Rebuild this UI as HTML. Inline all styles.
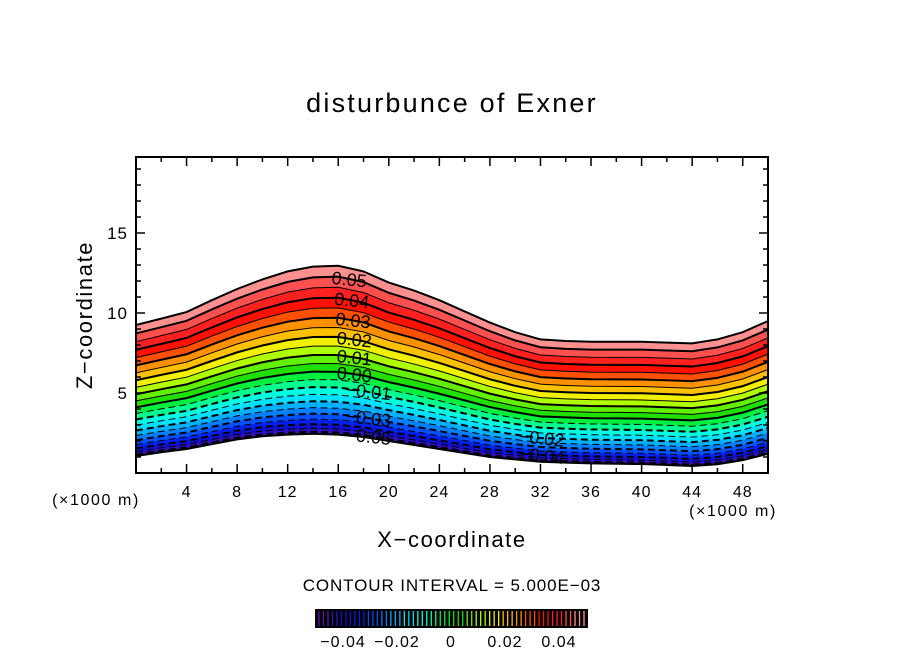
<!DOCTYPE html>
<html><head><meta charset="utf-8"><style>
body{margin:0;background:#fff}
svg text{font-family:"Liberation Sans","DejaVu Sans",sans-serif;fill:#000}
</style></head><body>
<svg id="c" width="904" height="654" xmlns="http://www.w3.org/2000/svg">
<text x="452" y="112" font-size="27" letter-spacing="2.2" text-anchor="middle">disturbunce of Exner</text>
<g id="plot"></g>
<g id="axes"></g>
<text x="96" y="505" font-size="16" letter-spacing="1.6" text-anchor="middle">(×1000 m)</text>
<text x="733" y="516" font-size="16" letter-spacing="1.6" text-anchor="middle">(×1000 m)</text>
<text x="452" y="547" font-size="22" letter-spacing="1.6" text-anchor="middle">X−coordinate</text>
<text transform="translate(92,315) rotate(-90)" font-size="22" letter-spacing="1.6" text-anchor="middle">Z−coordinate</text>
<text x="452" y="591" font-size="17" letter-spacing="0.9" text-anchor="middle">CONTOUR INTERVAL = 5.000E−03</text>
<g id="cbar"></g>
</svg>
<script>
const xs=[0,2,4,6,8,10,12,14,16,18,20,22,24,26,28,30,32,34,36,38,40,42,44,46,48,50];
const topZ=[9.25,9.65,10.06,10.8,11.5,12.1,12.6,12.9,12.95,12.6,11.9,11.4,10.8,10.1,9.4,8.8,8.35,8.25,8.2,8.2,8.2,8.15,8.1,8.35,8.8,9.5];
const botZ=[1.06,1.3,1.5,1.8,2.1,2.3,2.4,2.45,2.4,2.25,2.0,1.75,1.5,1.25,1.0,0.85,0.7,0.65,0.6,0.58,0.56,0.5,0.44,0.55,0.8,1.2];
const levels=[];for(let i=0;i<=20;i++)levels.push(+(-0.05+i*0.005).toFixed(3));
const vMin=-0.055,vMax=0.055;
const bandColors=["#6010b0","#3010c0","#1010d0","#0020f0","#0050ff","#0080ff","#00b0ff","#00e0ff","#00ffe0","#00ff90","#00f040","#20e000","#60f000","#b0ff00","#f0f000","#ffc000","#ff9000","#ff5000","#ff1000","#ff2020","#ff5050","#ff9090"];
const labelVals=[0.05,0.04,0.03,0.02,0.01,0.00,-0.01,-0.03,-0.05];
const labelText=["0.05","0.04","0.03","0.02","0.01","0.00","−0.01","−0.03","−0.05"];
const labelX=[15.5,15.7,15.8,15.9,15.9,15.9,16.6,16.6,16.6];
const label2Vals=[-0.02,-0.04];const label2Text=["−0.02","−0.04"];const label2X=[30.3,30.3];
const xTicks=[4,8,12,16,20,24,28,32,36,40,44,48];const yTicks=[5,10,15];
const cbTicks=[-0.04,-0.02,0,0.02,0.04];const cbTickText=["−0.04","−0.02","0","0.02","0.04"];
const X0=136,X1=768,Y0=473,Y1=157,XMAX=50,ZMAX=19.75;
const sx=x=>X0+(X1-X0)*x/XMAX, sy=z=>Y0-(Y0-Y1)*z/ZMAX;
const P=0.7;
function zAt(i,v){const f=Math.pow((v-vMin)/(vMax-vMin),1/P);return botZ[i]+(topZ[i]-botZ[i])*f;}
function zAtX(x,v){let i=Math.min(xs.length-2,Math.floor(x/2));const t=(x-xs[i])/(xs[i+1]-xs[i]);return zAt(i,v)*(1-t)+zAt(i+1,v)*t;}
const NS="http://www.w3.org/2000/svg";
function mk(t,a,p){const e=document.createElementNS(NS,t);for(const k in a)e.setAttribute(k,a[k]);p.appendChild(e);return e;}
const plot=document.getElementById('plot');
const bounds=[vMin,...levels,vMax];
for(let b=0;b<bounds.length-1;b++){
 let pts=xs.map((x,i)=>sx(x)+','+sy(zAt(i,bounds[b+1])));
 let pb=xs.map((x,i)=>sx(x)+','+sy(zAt(i,bounds[b]))).reverse();
 const e=mk('polygon',{points:pts.concat(pb).join(' '),fill:bandColors[b],stroke:bandColors[b],'stroke-width':0.6},plot);
 
 
}
[vMin,vMax].forEach((v,k)=>{const e=mk('polyline',{points:xs.map((x,i)=>sx(x)+','+sy(zAt(i,v))).join(' '),fill:'none',stroke:'#000','stroke-width':2},plot);
 
 });
levels.forEach(v=>{
 const major=Math.abs(Math.round(v*100)-v*100)<1e-6;
 const a={points:xs.map((x,i)=>sx(x)+','+sy(zAt(i,v))).join(' '),fill:'none',stroke:'#000','stroke-width':major?2:1};
 if(v<-1e-9)a['stroke-dasharray']='7,4';
 const e=mk('polyline',a,plot);
 
 
});
function addLabels(vals,txt,lx){vals.forEach((v,k)=>{
 const x=sx(lx[k]),y=sy(zAtX(lx[k],v));
 const t=mk('text',{x:x,y:y+7,'font-size':18,transform:`rotate(6 ${x} ${y})`},plot);t.textContent=txt[k];
 
 });}
addLabels(labelVals,labelText,labelX);addLabels(label2Vals,label2Text,label2X);
const ax=document.getElementById('axes');
mk('rect',{x:X0,y:Y1,width:X1-X0,height:Y0-Y1,fill:'none',stroke:'#000','stroke-width':2},ax);
for(let x=2;x<50;x+=2){const L=x%4==0?9:5;mk('line',{x1:sx(x),x2:sx(x),y1:Y0,y2:Y0-L,stroke:'#000','stroke-width':1.5},ax);mk('line',{x1:sx(x),x2:sx(x),y1:Y1,y2:Y1+L,stroke:'#000','stroke-width':1.5},ax);}
for(let z=1;z<20;z++){const L=z%5==0?9:5;mk('line',{x1:X0,x2:X0+L,y1:sy(z),y2:sy(z),stroke:'#000','stroke-width':1.5},ax);mk('line',{x1:X1,x2:X1-L,y1:sy(z),y2:sy(z),stroke:'#000','stroke-width':1.5},ax);}
xTicks.forEach(x=>{const t=mk('text',{x:sx(x),y:497,'font-size':16,'letter-spacing':1,'text-anchor':'middle'},ax);t.textContent=x;
 
 });
yTicks.forEach(z=>{const t=mk('text',{x:128,y:sy(z)+6,'font-size':17,'letter-spacing':1,'text-anchor':'end'},ax);t.textContent=z;
 
 });
const cb=document.getElementById('cbar');
const CB0=315,CB1=588;const cx=v=>451+2700*v;
mk('rect',{x:CB0,y:609,width:CB1-CB0,height:19,fill:'#000'},cb);
const nl=60;for(let i=0;i<nl;i++){const b=Math.min(bandColors.length-1,Math.floor((i+0.5)/nl*bandColors.length));
 mk('line',{x1:CB0+4+i*(CB1-CB0-8)/(nl-1),x2:CB0+4+i*(CB1-CB0-8)/(nl-1),y1:611,y2:626,stroke:bandColors[b],'stroke-width':1.3},cb);}
cbTicks.forEach((v,k)=>{const t=mk('text',{x:cx(v),y:647,'font-size':16,'letter-spacing':1,'text-anchor':'middle'},cb);t.textContent=cbTickText[k];
 
 });
</script>
</body></html>
